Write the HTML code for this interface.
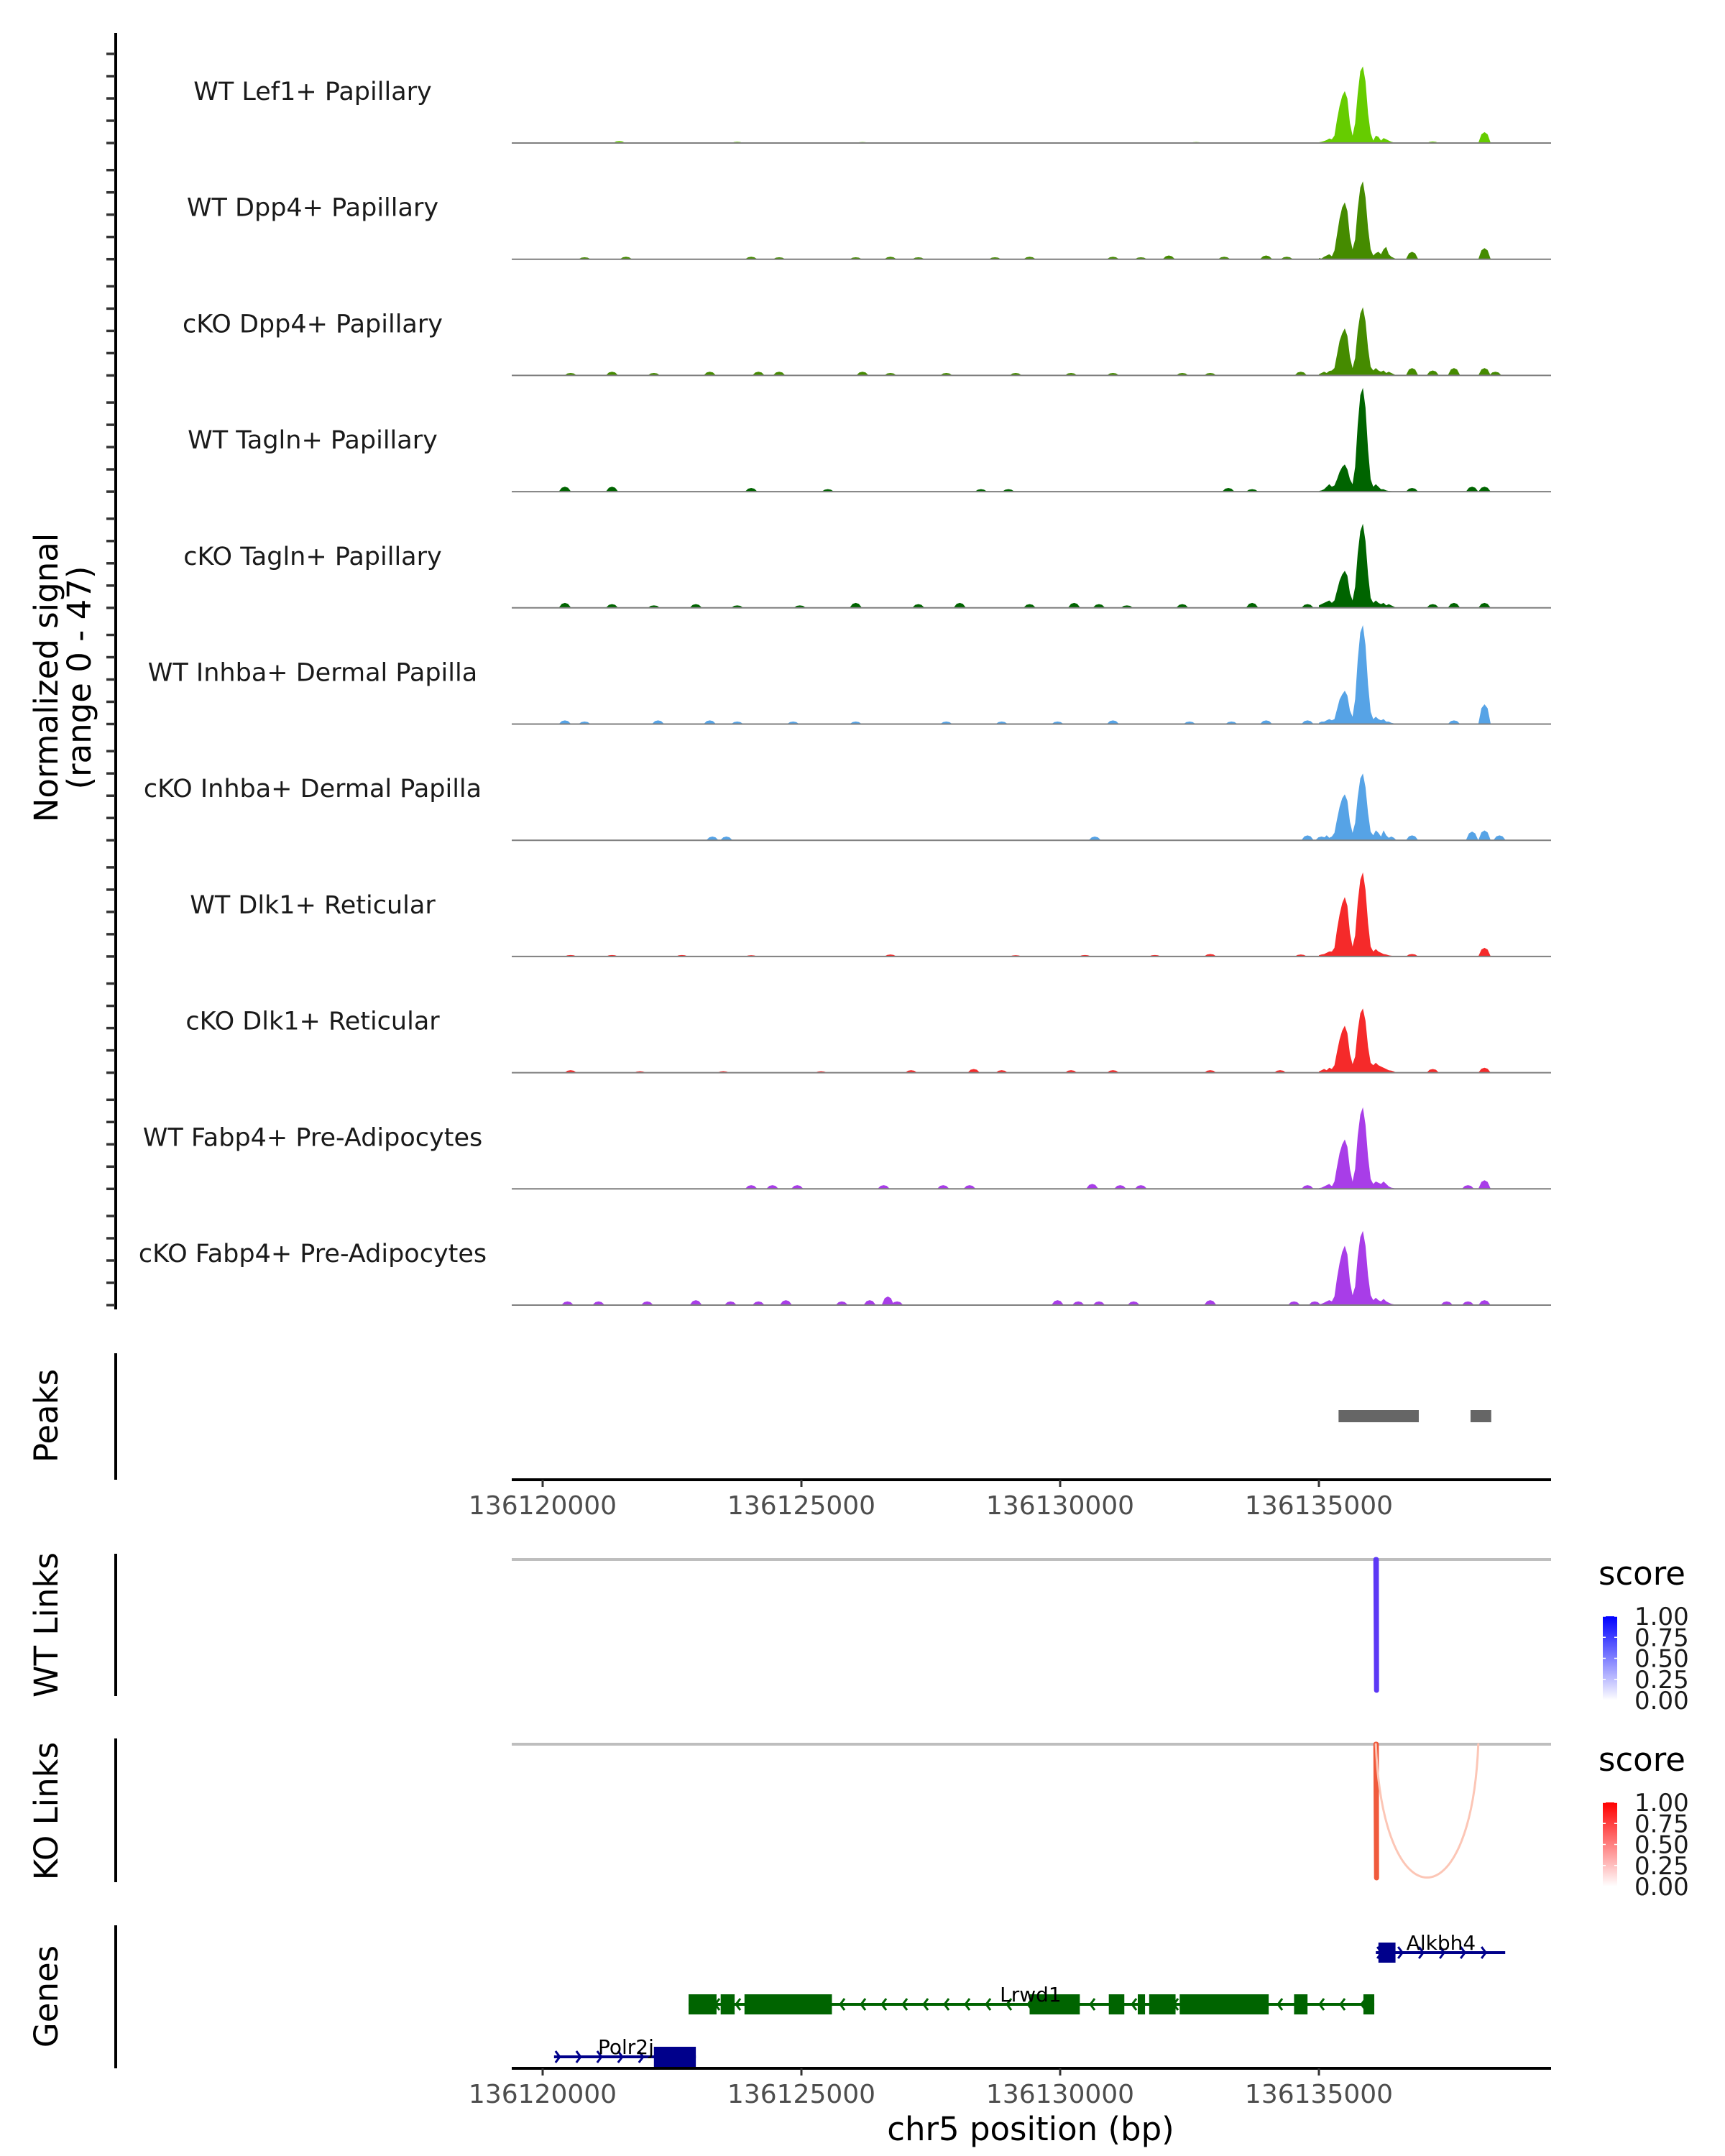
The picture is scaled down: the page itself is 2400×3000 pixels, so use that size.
<!DOCTYPE html>
<html><head><meta charset="utf-8"><style>
html,body{margin:0;padding:0;background:#fff}
svg{display:block}
text{font-family:"DejaVu Sans","Liberation Sans",sans-serif}
</style></head><body>
<svg id="chart" width="2400" height="3000" viewBox="0 0 2400 3000" xmlns="http://www.w3.org/2000/svg">
<g id="tracks"></g>
<g id="lower"></g>
</svg>
<script>
const START = 136120000;
const trackNames = ["WT Lef1+ Papillary","WT Dpp4+ Papillary","cKO Dpp4+ Papillary","WT Tagln+ Papillary","cKO Tagln+ Papillary","WT Inhba+ Dermal Papilla","cKO Inhba+ Dermal Papilla","WT Dlk1+ Reticular","cKO Dlk1+ Reticular","WT Fabp4+ Pre-Adipocytes","cKO Fabp4+ Pre-Adipocytes"];
const trackColors = ["#66cc00","#458b00","#458b00","#006400","#006400","#56a3e6","#56a3e6","#f52a2a","#f52a2a","#a83de8","#a83de8"];
const profileKb = [15.00,15.05,15.10,15.15,15.20,15.25,15.30,15.35,15.40,15.45,15.50,15.55,15.60,15.65,15.70,15.75,15.80,15.85,15.90,15.95,16.00,16.05,16.10,16.15,16.20,16.25,16.30,16.35,16.40,16.45,16.50];
const profiles = [
[0.3,0.5,0.8,1.2,1.8,1.5,3,9.5,15,19,21,18,8,3,8,20,29,31,25,12,4,1,3,2.5,1,2,1.5,1,0.5,0.2,0],
[0.5,0.3,1,1.5,2,1.2,3.5,10,16.5,21,23,19.5,9,4,8,20.5,29,31.5,25,12.5,4,1.5,2.5,3,2,4,5,2,1,0.5,0],
[0.5,1,1.5,1,1.8,2,3,8.5,14,17,19,16,7.5,3,7,18,25,27.6,22,11,3.5,2,3,2,1.5,2,1,1.5,1,0.5,0],
[0.3,0.5,1,2,3,2,2.5,5,8,10,11,9,5,3,10,27,39,42,34,17,5,2,3,2,1,1,0.5,0.3,0.2,0,0],
[1,1.5,2,2.5,3,2,3,7,11,13.5,15,13,6,3,8.5,22,31,34,27,13.5,4,2,3,2,1.5,2,1,1.5,1,0.5,0],
[0.5,1,1,1.5,2,1.5,2,6,10,12,13.5,11.5,5.5,3,10,26,37,40,32,16,5,2,3,2,1.5,2,1,1,0.5,0.3,0],
[0.5,1,1,2,1,1.5,3,8.5,13.5,17,18.6,16,7.5,3,7,17.5,25,27,21.5,11,3.5,2,4,3,1.5,4,2,1,1.5,1,0],
[0.5,0.8,1,1.5,2,2,3.5,11,17,21.5,24,20.5,9.5,4,8.5,22,31,34,27,13.5,4,2,3,2,1.5,1,0.8,0.5,0.3,0.2,0],
[0.5,1,1.5,1,2,1.5,3,8.5,13.5,17,19,16,7.5,3.5,6.5,17,24,26,21,10.5,4,3,4,3,2.5,2,1.5,1,0.8,0.5,0],
[0.3,0.5,1,1.5,2,1,3,9,14.5,18,20,17,8,3,8,21.5,30,33,26,13,4,2,3,2.5,2,3,2,1,0.5,0.3,0],
[0.3,0.5,1,1.5,2,1.5,3.5,11,17,21.5,24,20.5,9.5,4,7.5,19.5,27.5,30,24,12,4,2,3,2,1.5,2.5,1.5,1,0.5,0.3,0]
];
const bumps = [
[[1.48,0.8],[3.76,0.5],[6.18,0.4],[12.63,0.4],[17.20,0.6],[18.20,4.4]],
[[0.81,0.8],[1.61,1],[4.03,1],[4.57,0.8],[6.05,0.8],[6.72,1],[7.26,0.8],[8.74,0.8],[9.41,1],[11.02,1],[11.56,0.8],[12.10,1.5],[13.17,1],[13.98,1.5],[14.38,1],[16.80,3],[18.20,4.5]],
[[0.54,1],[1.34,1.5],[2.15,1],[3.23,1.5],[4.17,1.5],[4.57,1.5],[6.18,1.5],[6.72,1],[7.80,1],[9.14,1],[10.21,1],[11.02,1],[12.36,1],[12.90,1],[14.65,1.5],[16.80,3],[17.20,2],[17.61,3],[18.20,3],[18.41,1.5]],
[[0.43,2],[1.34,2],[4.03,1.5],[5.51,1],[8.47,1],[9.00,1],[13.25,1.5],[13.71,1],[16.80,1.5],[17.96,2],[18.20,2]],
[[0.43,2],[1.34,1.5],[2.15,1],[2.96,1.5],[3.76,1],[4.97,1],[6.05,2],[7.26,1.5],[8.06,2],[9.41,1.5],[10.27,2],[10.75,1.5],[11.29,1],[12.36,1.5],[13.71,2],[14.78,1.5],[17.20,1.5],[17.61,2],[18.20,2]],
[[0.43,1.5],[0.81,1],[2.23,1.5],[3.23,1.5],[3.76,1],[4.84,1],[6.05,1],[7.80,1],[8.87,1],[9.95,1],[11.02,1.5],[12.50,1],[13.31,1],[13.98,1.5],[14.78,1.5],[17.61,1.5],[18.20,8]],
[[3.28,1.5],[3.55,1.5],[10.67,1.5],[14.78,2],[15.05,1.5],[16.80,2],[17.96,3.5],[18.20,4],[18.49,2]],
[[0.54,0.6],[1.34,0.6],[2.69,0.6],[4.03,0.5],[6.72,0.8],[9.14,0.5],[10.48,0.6],[11.83,0.6],[12.90,1],[14.65,0.8],[16.80,1],[18.20,3.5]],
[[0.54,1],[1.88,0.6],[3.49,0.6],[5.38,0.6],[7.12,1],[8.33,1.5],[8.87,1],[10.21,1],[11.02,1],[12.90,1],[14.25,1],[17.20,1.5],[18.20,2]],
[[4.03,1.5],[4.44,1.5],[4.92,1.5],[6.59,1.5],[7.74,1.5],[8.25,1.5],[10.62,2],[11.16,1.5],[11.56,1.5],[14.78,1.5],[15.19,1.5],[17.88,1.5],[18.20,3.5]],
[[0.48,1.5],[1.08,1.5],[2.02,1.5],[2.96,2],[3.63,1.5],[4.17,1.5],[4.70,2],[5.78,1.5],[6.32,2],[6.67,3.5],[6.85,1.5],[9.95,2],[10.35,1.5],[10.75,1.5],[11.42,1.5],[12.90,2],[14.52,1.5],[14.92,1.5],[17.47,1.5],[17.88,1.5],[18.20,2]]
];
const peaksKb = [[15.38,16.93],[17.93,18.33]];
const xTicks = [136120000,136125000,136130000,136135000];
const xTickLabels = ["136120000","136125000","136130000","136135000"];
const legendTicks = ["1.00","0.75","0.50","0.25","0.00"];
const genes = [
 {name:"Alkbh4", start:16.10, end:18.60, strand:1, row:0, color:"#00008b", exons:[[16.15,16.48]], label:17.36},
 {name:"Lrwd1", start:2.82, end:16.07, strand:-1, row:1, color:"#006400", exons:[[2.82,3.36],[3.44,3.71],[3.90,5.59],[9.41,10.38],[10.94,11.24],[11.50,11.64],[11.72,12.23],[12.31,14.03],[14.52,14.78],[15.86,16.07]], label:9.43},
 {name:"Polr2j", start:0.22, end:2.96, strand:1, row:2, color:"#00008b", exons:[[2.15,2.96]], label:1.61}
];
const wtLinks = [{from:136136100, to:136136110, score:0.85}];
const koLinks = [{from:136136100, to:136136110, score:0.75},{from:136136100, to:136138080, score:0.25}];

const NS="http://www.w3.org/2000/svg";
function mk(tag, attrs, parent){const e=document.createElementNS(NS,tag);for(const k in attrs)e.setAttribute(k,attrs[k]);parent.appendChild(e);return e;}
const PX0=712, PX1=2158;
function xs(bp){return 755 + (bp-START)*0.072;}
const UNIT=3.44;
const tracks=document.getElementById('tracks');
const lower=document.getElementById('lower');

let ax=mk('line',{x1:161,y1:46,x2:161,y2:1822,stroke:"#000","stroke-width":4},tracks);


for(let k=0;k<11;k++){
  const base=46+161.7*k+153;
  for(let t=0;t<5;t++){
    const tk=mk('line',{x1:148,x2:160,y1:base-t*31,y2:base-t*31,stroke:"#333","stroke-width":3.5},tracks);
    
    
  }
}
const yt=mk('text',{x:0,y:0,"font-size":45,"text-anchor":"middle",fill:"#000",transform:"translate(80,943) rotate(-90)"},tracks);


mk('tspan',{x:0,dy:0},yt).textContent="Normalized signal";
mk('tspan',{x:0,dy:46},yt).textContent="(range 0 - 47)";

for(let k=0;k<11;k++){
  const base=46+161.7*k+153;
  const g=mk('g',{},tracks);
  
  
  const lab=mk('text',{x:435,y:base-60,"font-size":35,"text-anchor":"middle",fill:"#1a1a1a"},g);
  lab.textContent=trackNames[k];
  
  
  let d="M"+xs(START+profileKb[0]*1000)+","+base;
  profileKb.forEach((kb,i)=>{d+=" L"+xs(START+kb*1000).toFixed(1)+","+(base-profiles[k][i]*UNIT).toFixed(1);});
  d+=" L"+xs(START+profileKb[profileKb.length-1]*1000)+","+base+" Z";
  const p=mk('path',{d:d,fill:trackColors[k]},g);
  
  
  bumps[k].forEach(b=>{
    const x=xs(START+b[0]*1000), h=b[1]*UNIT, w=120*0.072;
    const pb=mk('polygon',{points:`${x-w},${base} ${x-w/2},${base-h*0.8} ${x},${base-h} ${x+w/2},${base-h*0.8} ${x+w},${base}`,fill:trackColors[k]},g);
    
    
  });
  const bl=mk('line',{x1:PX0,x2:PX1,y1:base,y2:base,stroke:"#7f7f7f","stroke-width":2},g);
  
  
}

function rowTitle(txt,y,name){
  const t=mk('text',{x:0,y:0,"font-size":45,"text-anchor":"middle",fill:"#000",transform:`translate(80,${y}) rotate(-90)`},lower);
  t.textContent=txt;
  
  
}
function vline(y1,y2,name){
  const l=mk('line',{x1:161,x2:161,y1:y1,y2:y2,stroke:"#000","stroke-width":4},lower);
  
  
}
function xAxis(y,name){
  const g=mk('g',{},lower);
  
  
  mk('line',{x1:PX0,x2:PX1,y1:y,y2:y,stroke:"#000","stroke-width":4},g);
  xTicks.forEach((v,i)=>{
    const tk=mk('line',{x1:xs(v),x2:xs(v),y1:y,y2:y+10,stroke:"#333","stroke-width":3},g);
    
    
    const tl=mk('text',{x:xs(v),y:y+48,"font-size":36,"text-anchor":"middle",fill:"#4d4d4d"},g);
    tl.textContent=xTickLabels[i];
    
    
  });
}
rowTitle("Peaks",1970,'peaks-title');
vline(1883,2059,'peaks-axis-line');
peaksKb.forEach(pk=>{
  const r=mk('rect',{x:xs(START+pk[0]*1000),y:1962,width:(pk[1]-pk[0])*1000*0.072,height:17,fill:"#666"},lower);
  
  
});
xAxis(2059,'peaks-x-axis');

function legend(y0,color,name){
  const g=mk('g',{},lower);
  
  
  const t=mk('text',{x:2224,y:y0,"font-size":45,fill:"#000"},g);t.textContent="score";
  const gid='gr'+name;
  const lg=mk('linearGradient',{id:gid,x1:0,y1:1,x2:0,y2:0},g);
  mk('stop',{offset:"0","stop-color":"#ffffff"},lg);
  mk('stop',{offset:"1","stop-color":color},lg);
  mk('rect',{x:2230,y:y0+44,width:20,height:117,fill:`url(#${gid})`},g);
  legendTicks.forEach((s,i)=>{
    const ty=y0+44+i*29.25;
    const tl=mk('text',{x:2274,y:ty+12,"font-size":34,fill:"#1a1a1a"},g);tl.textContent=s;
    mk('line',{x1:2230,x2:2234,y1:ty,y2:ty,stroke:"#fff","stroke-width":1.5},g);
    mk('line',{x1:2246,x2:2250,y1:ty,y2:ty,stroke:"#fff","stroke-width":1.5},g);
  });
}
function mix(c,s){const r=parseInt(c.slice(1,3),16),gg=parseInt(c.slice(3,5),16),b=parseInt(c.slice(5,7),16);
  const f=v=>Math.round(255+(v-255)*s);return `rgb(${f(r)},${f(gg)},${f(b)})`;}
function links(arr,y0,depth,color,name){
  mk('line',{x1:PX0,x2:PX1,y1:y0,y2:y0,stroke:"#bebebe","stroke-width":4},lower);
  arr.forEach(l=>{
    const x1=xs(l.from),x2=xs(l.to);
    let d;
    if(Math.abs(x2-x1)>20) d=`M${x1},${y0} C${x1+10},${y0+depth*1.33} ${x2-10},${y0+depth*1.33} ${x2},${y0}`;
    else d=`M${x1},${y0} L${x1+1},${y0+depth} L${x2},${y0}`;
    const p=mk('path',{d:d,fill:"none",stroke:color(l.score),"stroke-width":l.score>0.5?7:3,"stroke-linecap":"round","stroke-linejoin":"round"},lower);
    
    
  });
}
rowTitle("WT Links",2261,'wt-links-title');
vline(2162,2360,'wt-links-axis-line');
links(wtLinks,2170,182,s=>"#5c38f5",'wt-link-arc');
legend(2205,"#0000ff",'wt-score-legend');
rowTitle("KO Links",2520,'ko-links-title');
vline(2419,2619,'ko-links-axis-line');
links(koLinks,2427,186,s=>s>0.5?"#f05a3c":"#fcc6b6",'ko-link-arc');
legend(2464,"#ff0000",'ko-score-legend');

rowTitle("Genes",2778,'genes-title');
vline(2679,2878,'genes-axis-line');
const rowY=[2717,2789,2862];
genes.forEach(gn=>{
  const g=mk('g',{},lower);
  
  
  const y=rowY[gn.row], x1=xs(START+gn.start*1000), x2=xs(START+gn.end*1000);
  mk('line',{x1:x1,x2:x2,y1:y,y2:y,stroke:gn.color,"stroke-width":4},g);
  for(let x=x1+8;x<x2-4;x+=29){
    const s=gn.strand;
    mk('polyline',{points:`${x-6*s},${y-8} ${x},${y} ${x-6*s},${y+8}`,fill:"none",stroke:gn.color,"stroke-width":3},g);
  }
  gn.exons.forEach(e=>{
    const r=mk('rect',{x:xs(START+e[0]*1000),y:y-14,width:(e[1]-e[0])*1000*0.072,height:28,fill:gn.color},g);
    
    
  });
  const t=mk('text',{x:xs(START+gn.label*1000),y:y-4,"font-size":28,"text-anchor":"middle",fill:"#000"},g);
  t.textContent=gn.name;
  
  
});
xAxis(2878,'genes-x-axis');
const xt=mk('text',{x:1434,y:2978,"font-size":45,"text-anchor":"middle",fill:"#000"},lower);
xt.textContent="chr5 position (bp)";


</script>
</body></html>
